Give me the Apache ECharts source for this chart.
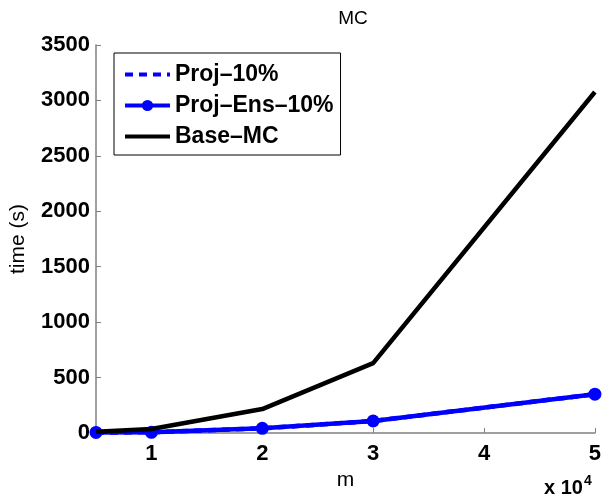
<!DOCTYPE html>
<html>
<head>
<meta charset="utf-8">
<script src="https://cdn.jsdelivr.net/npm/echarts@6/dist/echarts.min.js"></script>
<style>
  html, body { margin: 0; padding: 0; background: #fff; }
  #chart { width: 604px; height: 497px; }
</style>
</head>
<body>
<div id="chart"></div>
<script>
// m in units of 10^4
var mValues = [0.5, 1, 2, 3, 5];
var proj10 = [5, 6, 42, 108, 350];
var projEns10 = [5, 6, 42, 108, 350];
var baseMC = [12, 36, 216, 630, 3076];
var seriesNames = ['Proj–10%', 'Proj–Ens–10%', 'Base–MC'];

function pairs(ys) {
  return mValues.map(function (x, i) { return [x, ys[i]]; });
}

var font = '"Liberation Sans", Helvetica, Arial, sans-serif';

var chart = echarts.init(document.getElementById('chart'), null, { renderer: 'canvas' });
chart.setOption({
  animation: false,
  backgroundColor: '#fff',
  title: {
    text: 'MC',
    left: 348,
    textAlign: 'center',
    top: 4,
    textStyle: { fontFamily: font, fontSize: 19, fontWeight: 'normal', color: '#000' }
  },
  legend: {
    orient: 'vertical',
    left: 114,
    top: 53,
    padding: [10, 7, 7, 9],
    itemWidth: 45,
    itemHeight: 14,
    itemGap: 8,
    borderColor: '#000',
    borderWidth: 1,
    backgroundColor: '#fff',
    data: [
      { name: seriesNames[0], itemStyle: { opacity: 0 }, lineStyle: { color: '#0000ff', width: 4, type: [8, 6] } },
      { name: seriesNames[1], lineStyle: { color: '#0000ff', width: 4 } },
      { name: seriesNames[2], itemStyle: { opacity: 0 }, lineStyle: { color: '#000', width: 4 } }
    ],
    textStyle: { fontFamily: font, fontSize: 23, fontWeight: 'bold', color: '#000', lineHeight: 23 }
  },
  grid: { left: 96, right: 6, top: 45, bottom: 64, containLabel: false },
  xAxis: {
    type: 'value',
    min: 0.5,
    max: 5,
    name: 'm',
    nameLocation: 'middle',
    nameGap: 33,
    nameTextStyle: { fontFamily: font, fontSize: 21, color: '#000' },
    axisLine: { lineStyle: { color: '#808080', width: 1.5 } },
    axisTick: { inside: true, length: 5, lineStyle: { color: '#808080' } },
    splitLine: { show: false },
    axisLabel: {
      showMinLabel: false,
      margin: 10,
      fontFamily: font, fontSize: 22, fontWeight: 'bold', color: '#000',
      formatter: function (v) { return v === 0.5 ? '' : String(v); }
    }
  },
  yAxis: {
    type: 'value',
    min: 0,
    max: 3500,
    interval: 500,
    name: 'time (s)',
    nameLocation: 'middle',
    nameGap: 67,
    nameTextStyle: { fontFamily: font, fontSize: 21, color: '#000' },
    axisLine: { show: true, lineStyle: { color: '#808080', width: 1.5 } },
    axisTick: { show: true, inside: true, length: 5, lineStyle: { color: '#808080' } },
    splitLine: { show: false },
    axisLabel: {
      margin: 6, fontFamily: font, fontSize: 22, fontWeight: 'bold', color: '#000',
      formatter: function (v) { return String(v); }
    }
  },
  graphic: [{
    type: 'text',
    left: 544,
    top: 474,
    style: {
      text: '{b|x 10}{s|4}',
      rich: {
        b: { fontFamily: font, fontSize: 20, fontWeight: 'bold', fill: '#000', verticalAlign: 'bottom' },
        s: { fontFamily: font, fontSize: 14, fontWeight: 'bold', fill: '#000', verticalAlign: 'top', padding: [0, 0, 10, 1] }
      }
    }
  }],
  series: [
    {
      name: seriesNames[0],
      type: 'line',
      data: pairs(proj10),
      showSymbol: false,
      symbol: 'none',
      z: 1,
      itemStyle: { color: '#0000ff' },
      lineStyle: { color: '#0000ff', width: 4.5, type: [8, 6] }
    },
    {
      name: seriesNames[1],
      type: 'line',
      data: pairs(projEns10),
      symbol: 'circle',
      symbolSize: 13,
      z: 2,
      itemStyle: { color: '#0000ff' },
      lineStyle: { color: '#0000ff', width: 4.5 }
    },
    {
      name: seriesNames[2],
      type: 'line',
      data: pairs(baseMC),
      symbol: 'none',
      z: 3,
      itemStyle: { color: '#000' },
      lineStyle: { color: '#000', width: 4.5 }
    }
  ]
});
</script>
</body>
</html>
